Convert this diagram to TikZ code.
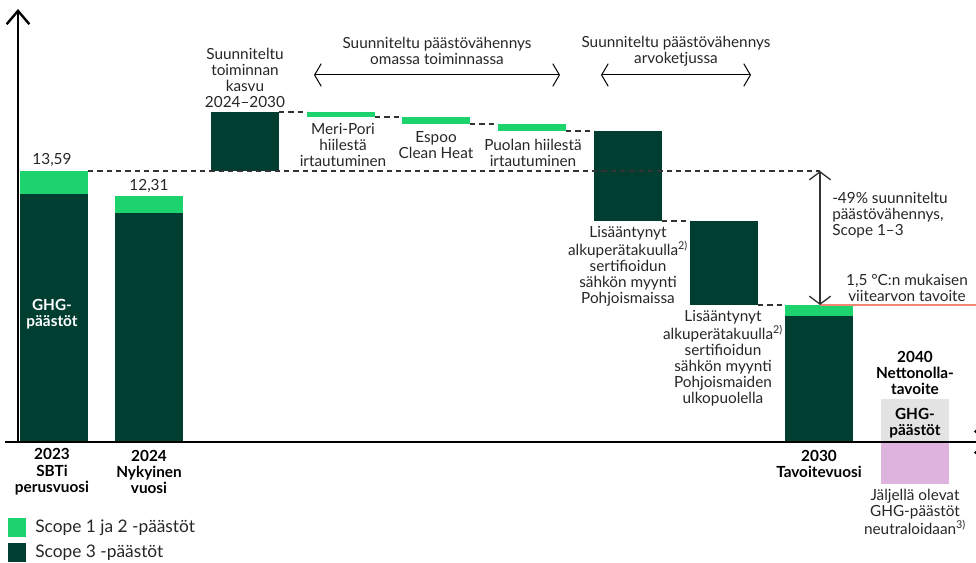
\documentclass[tikz,border=0pt]{standalone}
\usepackage{fontspec}
\setmainfont{Lato}
\usetikzlibrary{arrows.meta,positioning}
\definecolor{scopeone}{RGB}{29,211,110}
\definecolor{scopethree}{RGB}{1,62,50}
\definecolor{netgray}{RGB}{227,227,227}
\definecolor{netpink}{RGB}{222,180,222}
\definecolor{target}{RGB}{243,134,116}
\definecolor{dimgray}{RGB}{51,51,51}

\begin{document}
\begin{tikzpicture}[x=0.75pt,y=-0.75pt,
  font=\fontsize{11.5}{12}\selectfont,
  bar/.style={fill=scopethree,inner sep=0pt,outer sep=0pt,minimum width=51pt},
  barone/.style={bar,fill=scopeone},
  lbl/.style={align=center,inner sep=0pt,text=black!85},
  boldlbl/.style={lbl,text=black,font=\fontsize{11.5}{12.3}\selectfont\bfseries},
  legtext/.style={lbl,anchor=west,font=\fontsize{13}{14}\selectfont},
  dashline/.style={dash pattern=on 4pt off 3pt,line width=0.8pt,black!80},
  axisline/.style={line width=1.8pt,-{Straight Barb[length=10pt,width=17pt]}},
  span/.style={line width=0.75pt,{Straight Barb[length=5pt,width=17pt]}-{Straight Barb[length=5pt,width=17pt]}},
  dimline/.style={line width=1pt,dimgray,{Straight Barb[length=6pt,width=16pt]}-{Straight Barb[length=6pt,width=16pt]}}]
  \useasboundingbox (0,0) rectangle (976,563);
  \clip (0,0) rectangle (976,563);

  \node[bar,minimum height=185.25pt,anchor=south west] (b_23) at (20,441) {};
  \node[barone,minimum height=17.25pt,above=0pt of b_23] (b_23g) {};
  \node[bar,minimum height=171pt,anchor=south west] (b_24) at (115,441) {};
  \node[barone,minimum height=12.75pt,above=0pt of b_24] (b_24g) {};
  \node[bar,minimum height=44.25pt,anchor=north west] (kasvu) at (211,112) {};
  \node[barone,minimum height=3.75pt,anchor=north west] (meripori) at (307,112) {};
  \node[barone,minimum height=5.25pt,anchor=north west] (espoo) at (402,117) {};
  \node[barone,minimum height=5.25pt,anchor=north west] (puola) at (498,124) {};
  \node[bar,minimum height=67.5pt,anchor=north west] (pohjoismaat) at (594,131) {};
  \node[bar,minimum height=63pt,anchor=north west] (ulko) at (690,221) {};
  \node[barone,minimum height=8.25pt,anchor=north west] (b_30g) at (785,305) {};
  \node[bar,minimum height=93.75pt,below=0pt of b_30g] (b_30) {};
  \node[bar,fill=netgray,minimum height=31.5pt,anchor=south west] (net_gray) at (881,441) {};
  \node[bar,fill=netpink,minimum height=30.75pt,anchor=north west] (net_pink) at (881,443) {};

  \coordinate (arr_top) at (820,171);
  \coordinate (arr_bot) at (820,305);
  \coordinate (tgt_end) at (976,305);
  \coordinate (own_l) at (314,75);
  \coordinate (own_r) at (560,75);
  \coordinate (val_l) at (601,75);
  \coordinate (val_r) at (751,75);
  \coordinate (origin) at (18,442);
  \coordinate (y_top) at (18,9);
  \coordinate (x_start) at (5,442);
  \coordinate (x_end) at (990,442);

  \path[dashline]
  (b_23g.north east) edge (arr_top)
  (kasvu.north east) edge (meripori.north west)
  (meripori.south east) edge (espoo.north west)
  (espoo.south east) edge (puola.north west)
  (puola.south east) edge (pohjoismaat.north west)
  (pohjoismaat.south east) edge (ulko.north west)
  (ulko.south east) edge (b_30g.north west);

  \draw[target,line width=1.2pt] (arr_bot) -- (tgt_end);
  \draw[dimline] (arr_top) -- (arr_bot);
  \draw[span] (own_l) -- (own_r);
  \draw[span] (val_l) -- (val_r);
  \draw[axisline] (origin) -- (y_top);
  \draw[axisline] (x_start) -- (x_end);

  \node[lbl] (v_23) at (52,160) {13,59};
  \node[lbl] (v_24) at (149,186) {12,31};
  \node[boldlbl,text=white] (ghg_23) at (52,314) {GHG-\\päästöt};
  \node[lbl] (kasvu_t) at (245,78) {Suunniteltu\\toiminnan\\kasvu\\2024–2030};
  \node[lbl] (own_t) at (437,51) {Suunniteltu päästövähennys\\omassa toiminnassa};
  \node[lbl] (val_t) at (676,51.5) {Suunniteltu päästövähennys\\arvoketjussa};
  \node[lbl] (meripori_t) at (343,145) {Meri-Pori\\hiilestä\\irtautuminen};
  \node[lbl] (espoo_t) at (436,145) {Espoo\\Clean Heat};
  \node[lbl] (puola_t) at (533,152.5) {Puolan hiilestä\\irtautuminen};
  \node[lbl] (pohjoismaat_t) at (628,266) {Lisääntynyt\\alkuperätakuulla\textsuperscript{2)}\\sertifioidun\\sähkön myynti\\Pohjoismaissa};
  \node[lbl] (ulko_t) at (723,358) {Lisääntynyt\\alkuperätakuulla\textsuperscript{2)}\\sertifioidun\\sähkön myynti\\Pohjoismaiden\\ulkopuolella};
  \node[lbl,align=left,anchor=west] (cut_t) at (832,215) {-49\% suunniteltu\\päästövähennys,\\Scope 1–3};
  \node[lbl] (tgt_t) at (907,288) {1,5 °C:n mukaisen\\viitearvon tavoite};
  \node[boldlbl] (y_23) at (52,472) {2023\\SBTi\\perusvuosi};
  \node[boldlbl] (y_24) at (149,472) {2024\\Nykyinen\\vuosi};
  \node[boldlbl] (y_30) at (819,464) {2030\\Tavoitevuosi};
  \node[boldlbl] (y_40) at (915,373) {2040\\Nettonolla-\\tavoite};
  \node[boldlbl] (ghg_40) at (915,423) {GHG-\\päästöt};
  \node[lbl] (rest_t) at (915,512) {Jäljellä olevat\\GHG-päästöt\\neutraloidaan\textsuperscript{3)}};

  \node[barone,minimum width=13.5pt,minimum height=14.25pt,anchor=north west] (leg_one) at (8,518) {};
  \node[bar,minimum width=13.5pt,minimum height=14.25pt,anchor=north west] (leg_three) at (8,543) {};
  \node[legtext,right=6.75pt of leg_one] (leg_one_t) {Scope 1 ja 2 -päästöt};
  \node[legtext,right=6.75pt of leg_three] (leg_three_t) {Scope 3 -päästöt};
\end{tikzpicture}
\end{document}
